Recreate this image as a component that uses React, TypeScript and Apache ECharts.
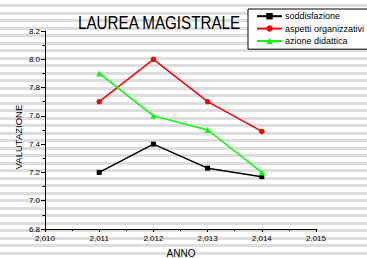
import React, { useEffect, useRef } from "react";
import * as echarts from "echarts";

const years = [2011, 2012, 2013, 2014];
const soddisfazione = [7.2, 7.4, 7.23, 7.17];
const aspettiOrganizzativi = [7.7, 8.0, 7.7, 7.49];
const azioneDidattica = [7.9, 7.6, 7.5, 7.2];
const seriesNames = ["soddisfazione", "aspetti organizzativi", "azione didattica"];

const FONT = "Liberation Sans, Arial, sans-serif";

export default function App() {
  const ref = useRef<HTMLDivElement>(null);
  useEffect(() => {
    if (!ref.current) return;
    const chart = echarts.init(ref.current, null, { renderer: "svg" });
    const pair = (vals: number[]) => years.map((y, i) => [y, vals[i]]);
    const mk = (name: string, vals: number[], color: string, symbol: string, size: number) => ({
      name,
      type: "line",
      data: pair(vals),
      symbol,
      symbolSize: size,
      showAllSymbol: true,
      lineStyle: { color, width: 1.5 },
      itemStyle: { color },
    });
    chart.setOption({
      animation: false,
      legend: {
        left: 248,
        top: 9,
        orient: "vertical",
        padding: [1, 20, 2, 8],
        itemGap: 0,
        itemWidth: 25,
        itemHeight: 8,
        borderColor: "#000",
        borderWidth: 1,
        borderRadius: 0,
        backgroundColor: "#fff",
        data: seriesNames,
        textStyle: { fontFamily: FONT, fontSize: 9, color: "#000", lineHeight: 12.4, padding: [0, 0, 0, -2] },
      },
      grid: { left: 45, right: 51, top: 31, bottom: 29 },
      xAxis: {
        type: "value",
        min: 2010,
        max: 2015,
        interval: 1,
        axisLine: { show: true, lineStyle: { color: "#000", width: 1 } },
        axisTick: { show: true, inside: false, length: 3, lineStyle: { color: "#000" } },
        minorTick: { show: true, splitNumber: 2, length: 2, lineStyle: { color: "#000" } },
        splitLine: { show: false },
        axisLabel: {
          margin: 5,
          fontFamily: FONT,
          fontSize: 8,
          color: "#000",
          formatter: (v: number) => Math.floor(v / 1000) + "," + String(v % 1000).padStart(3, "0"),
        },
      },
      yAxis: {
        type: "value",
        min: 6.8,
        max: 8.2,
        interval: 0.2,
        axisLine: { show: true, lineStyle: { color: "#000", width: 1 } },
        axisTick: { show: true, inside: false, length: 4, lineStyle: { color: "#000" } },
        minorTick: { show: true, splitNumber: 2, length: 2.5, lineStyle: { color: "#000" } },
        splitLine: { show: false },
        axisLabel: {
          margin: 5,
          fontFamily: FONT,
          fontSize: 8,
          color: "#000",
          formatter: (v: number) => v.toFixed(1),
        },
      },
      graphic: [
        {
          type: "text",
          x: 78,
          y: 23.5,
          scaleX: 0.845,
          style: {
            text: "LAUREA MAGISTRALE",
            align: "left",
            verticalAlign: "middle",
            font: "18px Liberation Sans, Arial, sans-serif",
            fill: "#000",
          },
        },
        {
          type: "text",
          x: 18,
          y: 137,
          rotation: Math.PI / 2,
          style: {
            text: "VALUTAZIONE",
            align: "center",
            verticalAlign: "middle",
            font: "9.5px Liberation Sans, Arial, sans-serif",
            fill: "#000",
          },
        },
        {
          type: "text",
          x: 181,
          y: 248,
          style: {
            text: "ANNO",
            align: "center",
            verticalAlign: "top",
            font: "10px Liberation Sans, Arial, sans-serif",
            fill: "#000",
          },
        },
      ],
      series: [
        mk(seriesNames[0], soddisfazione, "#000000", "rect", 5),
        mk(seriesNames[1], aspettiOrganizzativi, "#ff0000", "circle", 5.5),
        mk(seriesNames[2], azioneDidattica, "#00ff00", "triangle", 6),
      ],
    });
    return () => chart.dispose();
  }, []);
  return (
    <div
      ref={ref}
      style={{
        position: "fixed",
        left: 0,
        top: 0,
        width: 367,
        height: 258,
        background:
          "repeating-linear-gradient(180deg, #ffffff 0px, #ffffff 4.2px, #dddddd 4.2px, #dddddd 7.2px, #ffffff 7.2px, #ffffff 7.5px)",
      }}
    />
  );
}
